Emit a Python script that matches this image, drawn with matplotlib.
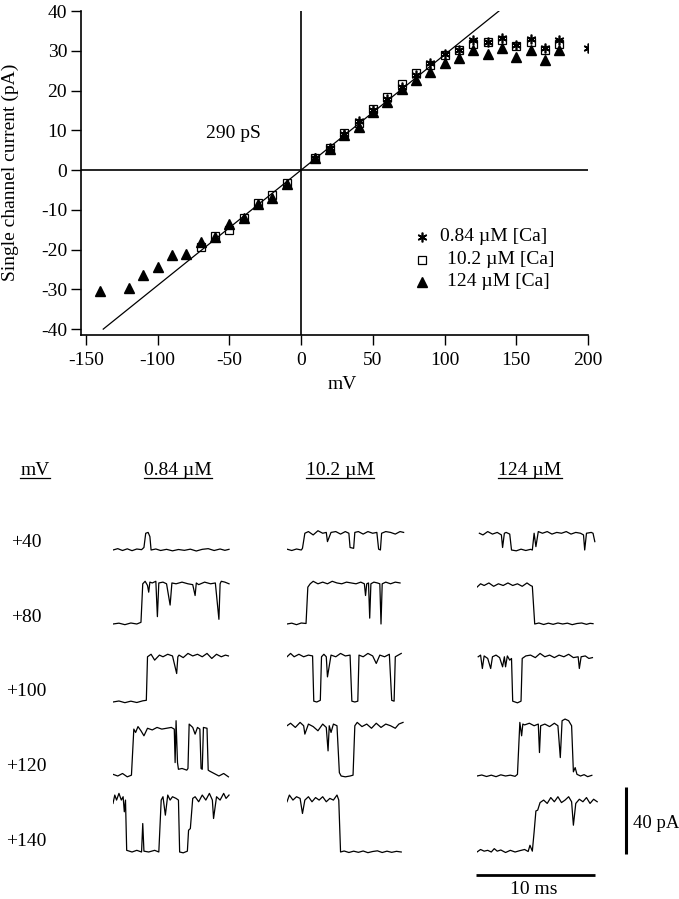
import numpy as np
import matplotlib
matplotlib.use("Agg")
import matplotlib.pyplot as plt
from matplotlib.lines import Line2D

plt.rcParams['font.family'] = 'Liberation Serif'
plt.rcParams['font.size'] = 14
plt.rcParams['axes.unicode_minus'] = False

# ---- I-V data (mV, pA) ----
v_084 = [10, 20, 30, 40, 50, 60, 70, 80, 90, 100, 110, 120, 130, 140, 150, 160, 170, 180, 200]
i_084 = [3.0, 5.5, 9.0, 12.3, 15.0, 17.8, 21.0, 23.9, 26.8, 29.3, 30.3, 32.7, 32.3, 33.1, 31.5, 32.9, 30.6, 32.7, 30.8]

v_102 = [-70, -60, -50, -40, -30, -20, -10, 10, 20, 30, 40, 50, 60, 70, 80, 90, 100, 110,
         120, 130, 140, 150, 160, 170, 180]
i_102 = [-19.3, -16.6, -15.2, -12.0, -8.3, -6.3, -3.2, 3.0, 5.5, 9.2, 11.8, 15.3, 18.3, 21.6,
         24.5, 26.4, 28.9, 30.1, 31.8, 32.3, 32.7, 31.2, 32.3, 30.1, 31.8]

v_124 = [-140, -120, -110, -100, -90, -80, -70, -60, -50, -40, -30, -20, -10, 10, 20, 30, 40,
         50, 60, 70, 80, 90, 100, 110, 120, 130, 140, 150, 160, 170, 180]
i_124 = [-30.4, -29.6, -26.5, -24.3, -21.4, -21.1, -18.1, -16.9, -13.6, -12.1, -8.6, -7.1,
         -3.4, 3.0, 5.3, 8.8, 10.9, 14.6, 17.2, 20.3, 22.6, 24.7, 27.0, 28.1, 30.1, 29.3,
         30.8, 28.5, 30.3, 27.6, 30.1]

conductance_pS = 290
fit_v = [-138, 138]

# ---- single channel traces: (time ms, current pA) ----
traces_084 = [
    ([0, 0.4, 0.8, 1.2, 1.6, 2.0, 2.4, 2.6, 2.75, 2.95, 3.1, 3.2, 3.6, 4.0, 4.5, 5.0, 5.5, 6.0,
      6.5, 7.0, 7.5, 8.0, 8.5, 9.0, 9.4, 9.75],
     [0, 0.8, -0.3, 0.7, -0.4, 0.6, 0.2, 1.5, 10, 10.5, 8, 0, 0.6, -0.3, 0.4, -0.5, 0.3, -0.2,
      0.5, -0.6, 0.4, 0.8, -0.3, 0.6, -0.2, 0.4]),
    ([0, 0.5, 1.0, 1.5, 2.0, 2.35, 2.5, 2.7, 2.9, 3.0, 3.1, 3.3, 3.6, 3.73, 3.85, 4.2, 4.5,
      4.8, 4.95, 5.3, 5.8, 6.3, 6.7, 6.9, 7.0, 7.2, 7.7, 8.2, 8.6, 8.9, 9.0, 9.1, 9.4, 9.75],
     [0, 0.5, -0.4, 0.6, 0, 1, 24, 25.5, 23, 19, 25, 24.5, 25.5, 4.4, 24.5, 25, 24, 11.3, 24.5,
      24, 25, 24, 23.5, 17, 24.5, 23.5, 25, 24, 24.5, 2.8, 24, 25.5, 25, 24]),
    ([0, 0.5, 1.0, 1.5, 2.0, 2.5, 2.8, 2.9, 3.2, 3.5, 3.9, 4.2, 4.6, 5.0, 5.35, 5.45, 5.55,
      5.9, 6.3, 6.7, 7.1, 7.5, 7.9, 8.3, 8.7, 9.1, 9.45, 9.7],
     [0, 0.6, -0.4, 0.5, -0.3, 0.7, 1, 27, 28.5, 25, 28, 27, 28.5, 27.5, 17, 27, 28, 26.5, 29,
      27.5, 28.5, 27, 29, 26, 28.5, 27, 28, 27.5]),
    ([0, 0.4, 0.8, 1.2, 1.55, 1.75, 1.9, 2.1, 2.35, 2.6, 2.9, 3.3, 3.7, 4.1, 4.5, 4.9, 5.15,
      5.22, 5.3, 5.42, 5.5, 5.8, 6.2, 6.3, 6.4, 6.7, 6.9, 7.1, 7.3, 7.4, 7.5, 7.6, 7.9, 8.0,
      8.1, 8.5, 8.9, 9.3, 9.7],
     [1, 0, 1.5, -0.5, 0.5, 28, 26, 29.5, 27, 24, 28.5, 27.5, 29, 28, 28.5, 29, 28, 8, 33, 8,
      4, 4.5, 3.5, 4.5, 31, 29, 25, 29, 28, 4.5, 4, 29, 28.5, 3.5, 3, 1.5, 0, 1.5, -0.5]),
    ([0, 0.15, 0.3, 0.5, 0.7, 0.85, 0.95, 1.05, 1.15, 1.6, 2.0, 2.4, 2.5, 2.6, 3.0, 3.5, 3.85,
      4.05, 4.2, 4.4, 4.6, 4.8, 5.0, 5.3, 5.5, 5.6, 5.9, 6.25, 6.35, 6.5, 6.7, 6.9, 7.2, 7.5,
      7.8, 8.1, 8.35, 8.45, 8.7, 9.0, 9.3, 9.5, 9.75],
     [29, 34, 31, 35, 31, 33, 24, 31, 1, 0, 1, 0, 17, 0.5, 0, 1, 0, 31, 33, 22, 34, 31, 33, 32,
      31, 0, -0.5, 0.5, 13, 14, 32, 33, 30, 34, 31, 35, 31, 20, 33, 31, 35, 32, 34]),
]

traces_102 = [
    ([0, 0.4, 0.8, 1.2, 1.3, 1.5, 1.8, 2.2, 2.6, 3.0, 3.3, 3.4, 3.7, 4.1, 4.5, 4.9, 5.2, 5.3,
      5.6, 5.7, 6.0, 6.4, 6.8, 7.2, 7.55, 7.7, 7.85, 7.95, 8.3, 8.7, 9.1, 9.5, 9.8],
     [0.5, -0.3, 0.6, 0, 1, 10, 11, 9, 11.5, 10, 10.5, 5, 10.5, 11, 9.5, 11, 10, 1.5, 1, 10.5,
      11, 9.5, 11, 10, 10.5, 0.5, 0, 10, 11, 10.5, 9.5, 11, 10.5]),
    ([0, 0.4, 0.8, 1.2, 1.6, 1.75, 1.95, 2.2, 2.6, 3.0, 3.4, 3.8, 4.2, 4.6, 5.0, 5.4, 5.8, 6.2,
      6.5, 6.6, 6.7, 6.85, 6.95, 7.05, 7.3, 7.6, 7.8, 7.9, 8.0, 8.3, 8.7, 9.1, 9.5],
     [0, 0.5, -0.4, 0.6, 0.3, 22, 24, 25.5, 24, 25, 24, 25.5, 24.5, 24, 25, 24.5, 24, 25, 24,
      17, 24, 24.5, 3.5, 24, 25, 24.5, 24, 0, 24, 25, 24, 25, 24.5]),
    ([0, 0.3, 0.6, 1.0, 1.4, 1.8, 2.15, 2.25, 2.5, 2.8, 2.9, 3.1, 3.3, 3.4, 3.7, 4.1, 4.5, 4.9,
      5.3, 5.45, 5.7, 5.95, 6.05, 6.4, 6.8, 7.2, 7.5, 7.8, 8.2, 8.6, 8.8, 9.0, 9.1, 9.35, 9.6],
     [27, 29, 27, 28.5, 27, 28, 27.5, 0.5, 0, 1, 27, 28.5, 27, 15, 28, 27, 29, 27.5, 28, 0.5,
      0, 0.5, 28, 27, 29, 27.5, 23, 28, 27, 28.5, 1, 0.5, 27, 28, 29]),
    ([0, 0.3, 0.7, 1.1, 1.4, 1.5, 1.8, 2.2, 2.6, 3.0, 3.3, 3.45, 3.55, 3.7, 3.9, 4.2, 4.4,
      4.55, 4.9, 5.3, 5.55, 5.7, 5.9, 6.3, 6.7, 7.1, 7.5, 7.9, 8.3, 8.7, 9.1, 9.4, 9.75],
     [30, 31.5, 29, 32, 30, 25, 31, 29.5, 27, 31, 29, 15, 30, 26, 31, 30, 2, 0, -0.5, 0, 0.5,
      30, 32, 29.5, 31, 28.5, 31.5, 29, 31, 30, 28.5, 31, 32]),
    ([0, 0.2, 0.5, 0.8, 1.1, 1.3, 1.5, 1.8, 2.1, 2.4, 2.7, 3.0, 3.3, 3.6, 3.9, 4.2, 4.35, 4.5,
      4.8, 5.2, 5.6, 6.0, 6.4, 6.8, 7.2, 7.6, 8.0, 8.4, 8.8, 9.2, 9.6],
     [30, 34, 31, 33, 32, 23, 31, 33, 30, 32.5, 31, 33, 30, 32, 31, 34, 31, 0, 0.6, -0.3, 0.5,
      -0.2, 0.6, -0.4, 0.3, 0.7, -0.3, 0.5, -0.2, 0.4, 0]),
]

traces_124 = [
    ([0.2, 0.5, 0.9, 1.3, 1.7, 2.05, 2.15, 2.3, 2.45, 2.75, 2.9, 3.3, 3.7, 4.1, 4.5, 4.65, 4.8,
      4.95, 5.15, 5.5, 5.9, 6.3, 6.7, 7.1, 7.5, 7.9, 8.3, 8.7, 8.95, 9.05, 9.2, 9.6, 9.75, 9.9],
     [10, 9, 11, 9.5, 10.5, 9, 1.5, 10, 10.5, 9.5, 0, -0.5, 0.5, -0.3, 0.4, 0, 10, 2, 11, 10,
      11, 9.5, 10.5, 10, 11, 9.5, 10.5, 10, 9, 0, 10, 10.5, 10, 5]),
    ([0, 0.3, 0.6, 1.0, 1.4, 1.8, 2.2, 2.6, 3.0, 3.4, 3.8, 4.2, 4.5, 4.65, 4.85, 5.2, 5.6, 6.0,
      6.4, 6.8, 7.2, 7.6, 8.0, 8.4, 8.8, 9.2, 9.5, 9.75],
     [22, 24, 23, 24.5, 22.5, 24, 23, 24.5, 23, 24, 22.5, 24.5, 23, 22.5, 0, 0.6, -0.3, 0.5,
      -0.2, 0.6, 0, 0.5, -0.4, 0.3, 0.6, -0.2, 0.4, 0.2]),
    ([0.1, 0.3, 0.45, 0.6, 0.9, 1.15, 1.3, 1.6, 1.9, 2.15, 2.3, 2.4, 2.55, 2.75, 2.9, 3.0, 3.4,
      3.7, 3.8, 4.1, 4.5, 4.9, 5.3, 5.7, 6.1, 6.5, 6.9, 7.3, 7.7, 8.1, 8.5, 8.6, 8.75, 9.1,
      9.4, 9.7],
     [27, 28, 20, 27.5, 26, 20, 27, 28, 26.5, 21, 27, 21, 27.5, 25, 26, 0.5, -0.5, 0.5, 26,
      27.5, 28, 26.5, 29, 27, 28, 26.5, 28, 27, 28.5, 26.5, 27, 20, 27, 27.5, 26, 26.5]),
    ([0, 0.4, 0.8, 1.2, 1.6, 2.0, 2.4, 2.8, 3.2, 3.4, 3.6, 3.75, 3.85, 4.0, 4.4, 4.8, 5.15,
      5.25, 5.35, 5.7, 6.1, 6.5, 6.8, 7.0, 7.15, 7.4, 7.7, 7.95, 8.1, 8.25, 8.4, 8.7, 9.0,
      9.3, 9.65],
     [0, 0.6, -0.3, 0.5, -0.4, 0.7, 0, 0.5, -0.2, 1, 32, 24, 31, 30.5, 31.5, 30, 31, 14, 30,
      31, 29.5, 31.5, 30, 11, 33, 34, 33, 30, 2.5, 5, 1, 0, 0.8, -0.4, 0.4]),
    ([0, 0.3, 0.6, 0.9, 1.2, 1.45, 1.7, 2.0, 2.4, 2.8, 3.2, 3.6, 4.0, 4.3, 4.45, 4.65, 4.8,
      4.95, 5.1, 5.3, 5.6, 5.9, 6.2, 6.5, 6.8, 7.1, 7.4, 7.7, 7.95, 8.1, 8.3, 8.6, 8.9, 9.2,
      9.5, 9.8, 10.1],
     [0, 1.5, 0.5, 1, 0, 2, 0.5, 1.2, -0.3, 1, 0, 0.8, 1.5, 0.3, 4, 0.5, 12, 24.5, 25, 29.5,
      31, 29, 32.5, 30, 33, 29.5, 31, 33, 30, 16, 29, 31.5, 30, 32.5, 29, 31.5, 30]),
]

col_titles = ['0.84 \u00b5M', '10.2 \u00b5M', '124 \u00b5M']
row_labels = ['+40', '+80', '+100', '+120', '+140']
legend_labels = ['0.84 \u00b5M [Ca]', '10.2 \u00b5M [Ca]', '124 \u00b5M [Ca]']
scale_ms = 10
scale_pA = 40

# ---- figure ----
W, H = 679, 899
fig = plt.figure(figsize=(W / 100, H / 100), dpi=100)


def fx(px):
    return px / W


def fy(py):
    return 1 - py / H


# I-V plot
ax = fig.add_axes([fx(81), fy(335), (588 - 81) / W, (335 - 11) / H])
ax.axhline(0, color='black', lw=1.2)
ax.axvline(0, color='black', lw=1.2)
g = conductance_pS / 1000.0
ax.plot(fit_v, [g * v for v in fit_v], color='black', lw=0.9)

star = (6, 2, 0)
ax.plot(v_124, i_124, ls='none', marker='^', ms=6.5, color='black')
ax.plot(v_102, i_102, ls='none', marker='s', ms=6, mfc='none', mec='black', mew=0.9)
ax.plot(v_084, i_084, ls='none', marker=star, ms=7, color='black', mew=1.2)

ax.set_xlim(-153.5, 200)
ax.set_ylim(-41.5, 40)
ax.set_xticks(np.arange(-150, 201, 50))
ax.set_yticks(np.arange(-40, 41, 10))
for s in ['top', 'right']:
    ax.spines[s].set_visible(False)
for s in ['left', 'bottom']:
    ax.spines[s].set_linewidth(1.2)
ax.tick_params(direction='out', length=7, width=1, labelsize=14, pad=3)
ax.tick_params(axis='x', pad=5)
ax.text(-47, 9.3, '%d pS' % conductance_pS, ha='center', va='center', fontsize=14)

# legend (drawn by hand)
leg_markers = [dict(marker=star, ms=7, color='black', mew=1.2),
               dict(marker='s', ms=6, mfc='none', mec='black', mew=0.9),
               dict(marker='^', ms=6.5, color='black')]
leg_y = [0.3025, 0.2315, 0.1636]
leg_tx = [0.708, 0.722, 0.722]
for mk, yy, tx, lab in zip(leg_markers, leg_y, leg_tx, legend_labels):
    ax.plot([0.6726], [yy], ls='none', transform=ax.transAxes, clip_on=False, **mk)
    ax.text(tx, yy, lab, transform=ax.transAxes, ha='left', va='center', fontsize=14)

fig.text(fx(10), fy(172), 'Single channel current (pA)', rotation=90,
         ha='center', va='center', fontsize=14)
fig.text(fx(342), fy(389), 'mV', ha='center', va='baseline', fontsize=14)

# ---- traces ----
col_left = [113, 287, 477]
col_center = [178, 340, 530]
row_base = [550, 624, 702, 776, 852]
row_text = [547, 622, 696, 771, 846]
ppms, ppA = 11.9, 1.675
ylo, yhi, xhi = -8, 42, 10.5

trace_axes = {}
for c, traces in enumerate([traces_084, traces_102, traces_124]):
    for r, (t, cur) in enumerate(traces):
        B = row_base[r]
        tax = fig.add_axes([fx(col_left[c]), fy(B - ylo * ppA),
                            xhi * ppms / W, (yhi - ylo) * ppA / H])
        tax.plot(t, cur, color='black', lw=0.9)
        tax.set_xlim(0, xhi)
        tax.set_ylim(ylo, yhi)
        tax.axis('off')
        trace_axes[(c, r)] = tax

# scale bars in the last trace axes
sax = trace_axes[(2, 4)]
sax.plot([-0.1, -0.1 + scale_ms], [-13.7, -13.7], color='black', lw=2, clip_on=False,
         solid_capstyle='butt')
sax.plot([12.5, 12.5], [-1.2, -1.2 + scale_pA], color='black', lw=2.2, clip_on=False,
         solid_capstyle='butt')
fig.text(fx(633), fy(828), '%d pA' % scale_pA, ha='left', va='baseline', fontsize=13.5)
fig.text(fx(534), fy(894), '%d ms' % scale_ms, ha='center', va='baseline', fontsize=14)

# headers (underlined)
headers = [fig.text(fx(35), fy(475), 'mV', ha='center', va='baseline', fontsize=14)]
for cx, title in zip(col_center, col_titles):
    headers.append(fig.text(fx(cx), fy(475), title, ha='center', va='baseline', fontsize=14))
for rt, lab in zip(row_text, row_labels):
    fig.text(fx(26), fy(rt), lab, ha='center', va='baseline', fontsize=14)

fig.canvas.draw()
for h in headers:
    bb = h.get_window_extent()
    fig.add_artist(Line2D([bb.x0 / W, bb.x1 / W], [fy(478), fy(478)],
                          transform=fig.transFigure, color='black', lw=0.9))

fig.savefig('out.png', dpi=100)
